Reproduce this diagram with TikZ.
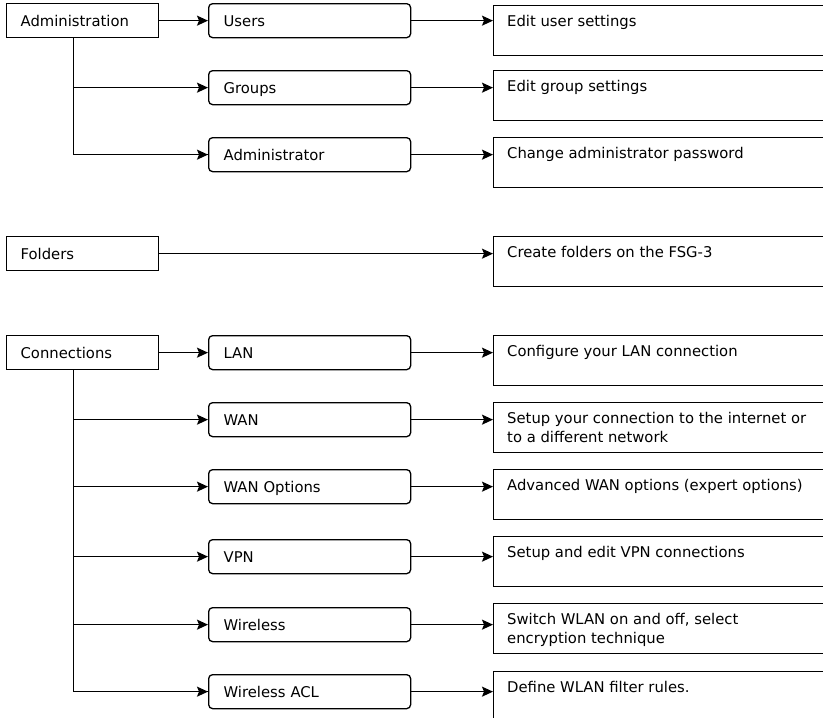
\documentclass[tikz,border=0pt]{standalone}
\usepackage{fontspec}
\setmainfont{DejaVu Sans}
\usetikzlibrary{arrows.meta}
\begin{document}
\begin{tikzpicture}[x=1pt,y=-1pt,
  every node/.style={font=\fontsize{14.8}{19}\selectfont},
  topbox/.style={draw, line width=1.3pt, anchor=north west, minimum width=152pt, minimum height=34pt,
     text width=124pt, align=left, inner xsep=14pt, inner ysep=0pt, text height=11pt, text depth=0pt},
  subbox/.style={topbox, rounded corners=4pt, minimum width=202pt, text width=172pt, inner xsep=15pt},
  descbox/.style={draw, line width=1.3pt, anchor=north west, minimum width=400pt, minimum height=50pt, inner sep=0pt},
  desctext/.style={anchor=north west, align=left, inner sep=0pt},
  conn/.style={line width=1.3pt, -{Stealth[length=11pt,width=10pt,inset=2pt]}}
]
\useasboundingbox (0,0) rectangle (823,718);
\clip (0,0) rectangle (823,718);

% level 1
\node[topbox] (adm) at (6,3) {Administration};
\node[topbox] (fol) at (6,236) {Folders};
\node[topbox] (con) at (6,335) {Connections};

% level 2
\node[subbox] (usr) at (208,3) {Users};
\node[subbox] (grp) at (208,70) {Groups};
\node[subbox] (adr) at (208,137) {Administrator};
\node[subbox] (lan) at (208,335) {LAN};
\node[subbox] (wan) at (208,402) {WAN};
\node[subbox] (wop) at (208,469) {WAN Options};
\node[subbox] (vpn) at (208,539) {VPN};
\node[subbox] (wls) at (208,607) {Wireless};
\node[subbox] (acl) at (208,674) {Wireless ACL};

% descriptions
\node[descbox] (d1) at (493,5) {};
\node[descbox] (d2) at (493,70) {};
\node[descbox] (d3) at (493,137) {};
\node[descbox] (d4) at (493,236) {};
\node[descbox] (d5) at (493,335) {};
\node[descbox] (d6) at (493,402) {};
\node[descbox] (d7) at (493,469) {};
\node[descbox] (d8) at (493,536) {};
\node[descbox] (d9) at (493,603) {};
\node[descbox] (d10) at (493,671) {};

\node[desctext] (t1) at ([xshift=14pt,yshift=-10pt]d1.north west) {Edit user settings};
\node[desctext] (t2) at ([xshift=14pt,yshift=-10pt]d2.north west) {Edit group settings};
\node[desctext] (t3) at ([xshift=14pt,yshift=-10pt]d3.north west) {Change administrator password};
\node[desctext] (t4) at ([xshift=14pt,yshift=-10pt]d4.north west) {Create folders on the FSG-3};
\node[desctext] (t5) at ([xshift=14pt,yshift=-10pt]d5.north west) {Configure your LAN connection};
\node[desctext] (t6) at ([xshift=14pt,yshift=-10pt]d6.north west) {Setup your connection to the internet or\\to a different network};
\node[desctext] (t7) at ([xshift=14pt,yshift=-10pt]d7.north west) {Advanced WAN options (expert options)};
\node[desctext] (t8) at ([xshift=14pt,yshift=-10pt]d8.north west) {Setup and edit VPN connections};
\node[desctext] (t9) at ([xshift=14pt,yshift=-10pt]d9.north west) {Switch WLAN on and off, select\\encryption technique};
\node[desctext] (t10) at ([xshift=14pt,yshift=-10pt]d10.north west) {Define WLAN filter rules.};

% trunks
\coordinate (ta) at ([xshift=-9pt]adm.south);
\coordinate (tc) at ([xshift=-9pt]con.south);
\draw[line width=1.3pt] (ta) |- (adr.west);
\draw[conn] (ta |- adr.west) -- (adr.west);
\draw[conn] (ta |- grp.west) -- (grp.west);
\draw[conn] (adm.east) -- (usr.west);

\draw[line width=1.3pt] (tc) |- (acl.west);
\draw[conn] (con.east) -- (lan.west);
\foreach \n in {wan,wop,vpn,wls,acl}{
  \draw[conn] (tc |- \n.west) -- (\n.west);
}

% to descriptions
\draw[conn] (usr.east) -- (usr.east -| d1.west);
\draw[conn] (grp.east) -- (grp.east -| d2.west);
\draw[conn] (adr.east) -- (adr.east -| d3.west);
\draw[conn] (fol.east) -- (fol.east -| d4.west);
\draw[conn] (lan.east) -- (lan.east -| d5.west);
\draw[conn] (wan.east) -- (wan.east -| d6.west);
\draw[conn] (wop.east) -- (wop.east -| d7.west);
\draw[conn] (vpn.east) -- (vpn.east -| d8.west);
\draw[conn] (wls.east) -- (wls.east -| d9.west);
\draw[conn] (acl.east) -- (acl.east -| d10.west);
\end{tikzpicture}
\end{document}
